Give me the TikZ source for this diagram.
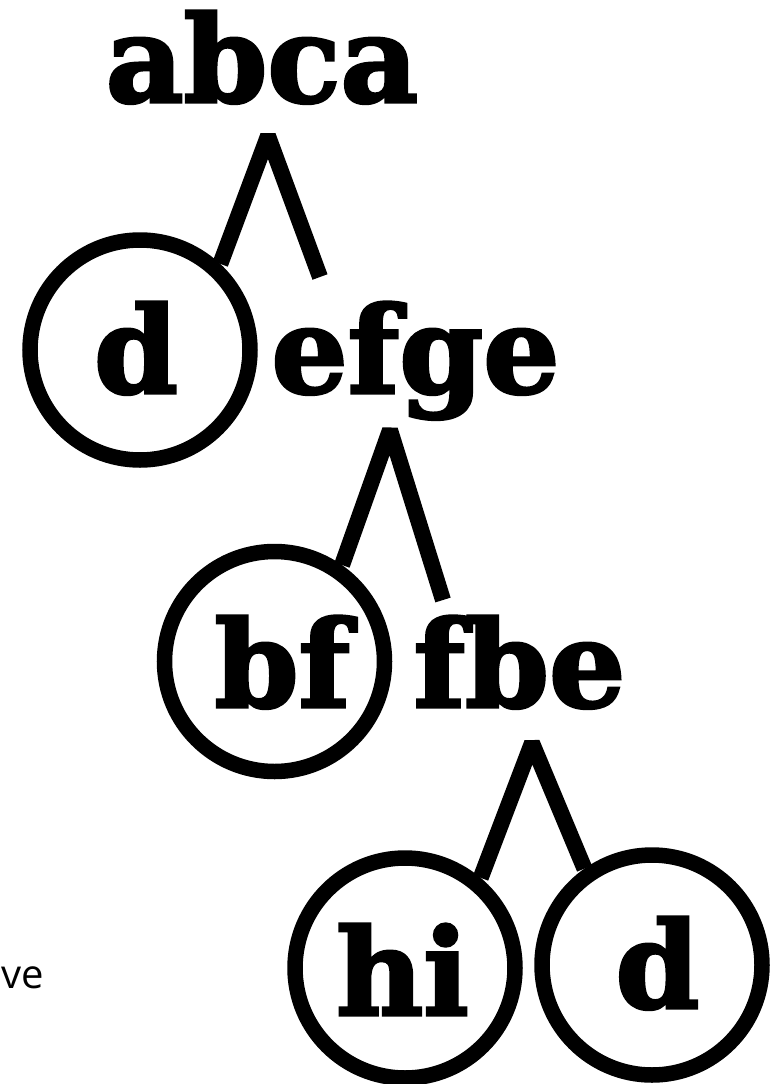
\documentclass[tikz,border=0pt]{standalone}
\usepackage{fontspec}
\newfontfamily\slab{DejaVu Serif}[FakeBold=2.5]
\newfontfamily\uisans{Open Sans}
\begin{document}
\begin{tikzpicture}[x=1pt,y=-1pt,
  ring/.style={circle, draw, line width=15.5pt, minimum size=220pt, inner sep=0pt},
  word/.style={anchor=base, inner sep=0pt, font=\slab\bfseries\fontsize{120}{120}\selectfont},
  leg/.style={line width=16pt, line join=bevel, line cap=butt}]
\useasboundingbox (0,0) rectangle (774,1084);
% words
\node[word] (w1) at (262,102) {abca};
\node[word] (w2) at (415.5,393) {efge};
\node[word] (w3) at (519.5,707) {fbe};
% rings
\node[ring] (r1) at (140,350) {};
\node[word] (t1) at (136,393) {d};
\node[ring] (r2) at (274.5,661.5) {};
\node[word] (t2) at (282.5,707) {bf};
\node[ring] (r3) at (405,968) {};
\node[word] (t3) at (402.5,1015) {hi};
\node[ring] (r4) at (652,965) {};
\node[word] (t4) at (657.5,1008) {d};
% apexes and free ends
\coordinate (a1) at (268,136);
\coordinate (e1) at (320,277);
\coordinate (a2) at (390,430);
\coordinate (e2) at (443,600);
\coordinate (a3) at (532,743);
% connectors
\draw[leg] (r1.47.4) -- (a1) -- (e1);
\draw[leg] (r2.55.8) -- (a2) -- (e2);
\draw[leg] (r3.50.5) -- (a3) -- (r4.125.5);
% stray text
\node[anchor=base west, inner sep=0pt, font=\uisans\fontsize{40}{40}\selectfont] (ve) at (1,988) {ve};
\end{tikzpicture}
\end{document}
